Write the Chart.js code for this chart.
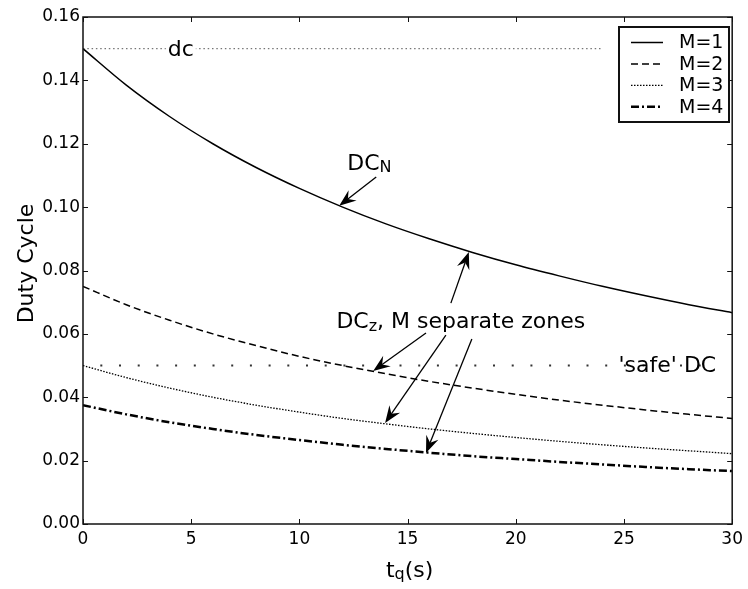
<!DOCTYPE html>
<html>
<head>
<meta charset="utf-8">
<script src="https://cdn.jsdelivr.net/npm/chart.js@4.4.1/dist/chart.umd.min.js"></script>
<style>
    html, body { margin: 0; padding: 0; background: #fff; }
</style>
</head>
<body>
<canvas id="graph" width="748" height="589"></canvas>
<script>
// tq(s) sample points and duty cycle
const tq = [0, 2, 4, 6, 8, 10, 12, 14, 16, 18, 20, 22, 24, 26, 28, 30];
const dutyM1 = [0.150, 0.1385, 0.1286, 0.120, 0.1125, 0.1059, 0.100, 0.0947, 0.090, 0.0857, 0.0818, 0.0783, 0.075, 0.072, 0.0692, 0.0667];
const dutyM2 = [0.075, 0.0692, 0.0643, 0.060, 0.0563, 0.0529, 0.050, 0.0474, 0.045, 0.0429, 0.0409, 0.0391, 0.0375, 0.036, 0.0346, 0.0333];
const dutyM3 = [0.050, 0.0462, 0.0429, 0.040, 0.0375, 0.0353, 0.0333, 0.0316, 0.030, 0.0286, 0.0273, 0.0261, 0.025, 0.024, 0.0231, 0.0222];
const dutyM4 = [0.0375, 0.0346, 0.0321, 0.030, 0.0281, 0.0265, 0.025, 0.0237, 0.0225, 0.0214, 0.0205, 0.0196, 0.0188, 0.018, 0.0173, 0.0167];
const seriesLabels = ['M=1', 'M=2', 'M=3', 'M=4'];

// reference levels
const dcX = [0, 24];
const dcY = [0.15, 0.15];
const safeX = [0.8, 29.2];
const safeY = [0.05, 0.05];

// axes
const xMin = 0, xMax = 30, xStep = 5;
const yMin = 0, yMax = 0.16, yStep = 0.02;

// arrows: [tailX, tailY, tipX, tipY]
const arrows = [
    [13.55, 0.1095, 11.84, 0.1004],
    [17.0, 0.0697, 17.83, 0.0858],
    [15.85, 0.0603, 13.41, 0.0483],
    [16.77, 0.0596, 13.96, 0.0319],
    [17.97, 0.0584, 15.85, 0.0224],
];

const FONT = "'DejaVu Sans', sans-serif";

function pts(xs, ys) {
    return xs.map((v, i) => ({x: v, y: ys[i]}));
}

const decor = {
    id: 'decor',
    afterDatasetsDraw(chart) {
        const {ctx, chartArea: a, scales} = chart;
        const sx = scales.x, sy = scales.y;
        ctx.save();

        // frame
        ctx.strokeStyle = '#111';
        ctx.lineWidth = 1.5;
        ctx.setLineDash([]);
        ctx.strokeRect(a.left, a.top, a.right - a.left, a.bottom - a.top);

        // inward ticks on all sides
        ctx.lineWidth = 1;
        ctx.beginPath();
        for (let v = xMin; v <= xMax; v += xStep) {
            const px = Math.round(sx.getPixelForValue(v)) + 0.5;
            ctx.moveTo(px, a.bottom); ctx.lineTo(px, a.bottom - 5);
            ctx.moveTo(px, a.top); ctx.lineTo(px, a.top + 5);
        }
        for (let i = 0; i <= Math.round((yMax - yMin) / yStep); i++) {
            const py = Math.round(sy.getPixelForValue(yMin + i * yStep)) + 0.5;
            ctx.moveTo(a.left, py); ctx.lineTo(a.left + 5, py);
            ctx.moveTo(a.right, py); ctx.lineTo(a.right - 5, py);
        }
        ctx.stroke();

        ctx.fillStyle = '#000';
        ctx.textBaseline = 'alphabetic';

        // dc label on the dotted line
        ctx.font = '22px ' + FONT;
        let w = ctx.measureText('dc').width;
        let cx = sx.getPixelForValue(4.52);
        let by = sy.getPixelForValue(0.1478);
        ctx.fillStyle = '#fff';
        ctx.fillRect(cx - w / 2 - 2, by - 17, w + 4, 20);
        ctx.fillStyle = '#000';
        ctx.textAlign = 'center';
        ctx.fillText('dc', cx, by);

        ctx.textAlign = 'left';
        // DC_N
        subText('DC', 'N', sx.getPixelForValue(12.21), sy.getPixelForValue(0.1117), 2, '');
        // DC_z, M separate zones
        subText('DC', 'z', sx.getPixelForValue(11.71), sy.getPixelForValue(0.0617), 3, ', M separate zones');
        // 'safe' DC
        ctx.font = '22px ' + FONT;
        ctx.fillText("'safe' DC", sx.getPixelForValue(24.75), sy.getPixelForValue(0.048));

        function subText(main, sub, x0, y0, drop, rest) {
            ctx.font = '22px ' + FONT;
            ctx.fillText(main, x0, y0);
            let x1 = x0 + ctx.measureText(main).width;
            ctx.font = '16px ' + FONT;
            ctx.fillText(sub, x1, y0 + drop);
            x1 += ctx.measureText(sub).width;
            ctx.font = '22px ' + FONT;
            if (rest) ctx.fillText(rest, x1, y0);
        }

        // arrows
        arrows.forEach(r => {
            const x0 = sx.getPixelForValue(r[0]), y0 = sy.getPixelForValue(r[1]);
            const x1 = sx.getPixelForValue(r[2]), y1 = sy.getPixelForValue(r[3]);
            const ang = Math.atan2(y1 - y0, x1 - x0);
            const len = 17, hw = 6.5, notch = 11;
            ctx.strokeStyle = '#000';
            ctx.lineWidth = 1.3;
            ctx.beginPath();
            ctx.moveTo(x0, y0);
            ctx.lineTo(x1 - Math.cos(ang) * notch, y1 - Math.sin(ang) * notch);
            ctx.stroke();
            const bx = x1 - Math.cos(ang) * len, by2 = y1 - Math.sin(ang) * len;
            const nx = -Math.sin(ang), ny = Math.cos(ang);
            ctx.beginPath();
            ctx.moveTo(x1, y1);
            ctx.lineTo(bx + nx * hw, by2 + ny * hw);
            ctx.lineTo(x1 - Math.cos(ang) * notch, y1 - Math.sin(ang) * notch);
            ctx.lineTo(bx - nx * hw, by2 - ny * hw);
            ctx.closePath();
            ctx.fill();
        });

        // legend box
        const lx = 619, ly = 27, lw = 110, lh = 95;
        ctx.fillStyle = '#fff';
        ctx.fillRect(lx, ly, lw, lh);
        ctx.strokeStyle = '#111';
        ctx.lineWidth = 2;
        ctx.setLineDash([]);
        ctx.strokeRect(lx, ly, lw, lh);
        ctx.font = '19px ' + FONT;
        ctx.textBaseline = 'middle';
        ctx.textAlign = 'left';
        chart.data.datasets.filter(d => seriesLabels.includes(d.label)).forEach((d, i) => {
            const yy = ly + 15.5 + i * 21.4;
            ctx.strokeStyle = d.borderColor;
            ctx.lineWidth = d.borderWidth;
            ctx.setLineDash(d.borderDash || []);
            ctx.beginPath();
            ctx.moveTo(lx + 12, yy);
            ctx.lineTo(lx + 44, yy);
            ctx.stroke();
            ctx.fillStyle = '#000';
            ctx.fillText(d.label, lx + 60, yy + 1);
        });
        ctx.setLineDash([]);

        // x title t_q(s)
        ctx.textBaseline = 'alphabetic';
        ctx.font = '22px ' + FONT;
        const wt = ctx.measureText('t').width, ws = ctx.measureText('(s)').width;
        ctx.font = '16px ' + FONT;
        const wq = ctx.measureText('q').width;
        let tx = (a.left + a.right) / 2 + 2 - (wt + wq + ws) / 2;
        const ty = 577;
        ctx.font = '22px ' + FONT;
        ctx.fillText('t', tx, ty);
        ctx.font = '16px ' + FONT;
        ctx.fillText('q', tx + wt, ty + 2);
        ctx.font = '22px ' + FONT;
        ctx.fillText('(s)', tx + wt + wq, ty);

        // y title
        ctx.translate(33, (a.top + a.bottom) / 2 - 7);
        ctx.rotate(-Math.PI / 2);
        ctx.textAlign = 'center';
        ctx.fillText('Duty Cycle', 0, 0);

        ctx.restore();
    }
};

const curve = (label, data, dash, width) => ({
    label: label,
    data: pts(tq, data),
    borderColor: '#000',
    borderWidth: width,
    borderDash: dash,
    pointRadius: 0,
    cubicInterpolationMode: 'monotone',
    fill: false
});

const graph = new Chart(document.getElementById('graph'), {
    type: 'line',
    data: {
        datasets: [
            {
                label: 'dc',
                data: pts(dcX, dcY),
                borderColor: '#555',
                borderWidth: 1,
                borderDash: [1.5, 2.8],
                pointRadius: 0
            },
            {
                label: 'safe',
                data: pts(safeX, safeY),
                borderColor: '#333',
                borderWidth: 2,
                borderDash: [2, 16.7],
                pointRadius: 0
            },
            curve(seriesLabels[0], dutyM1, [], 1.5),
            curve(seriesLabels[1], dutyM2, [7, 4], 1.5),
            curve(seriesLabels[2], dutyM3, [1.5, 1.5], 1.3),
            curve(seriesLabels[3], dutyM4, [8, 3, 2, 3], 2.5)
        ]
    },
    options: {
        responsive: false,
        animation: false,
        devicePixelRatio: 1,
        layout: {padding: {top: 17, right: 14, left: 0, bottom: 0}},
        plugins: {
            legend: {display: false},
            tooltip: {enabled: false}
        },
        scales: {
            x: {
                type: 'linear',
                min: xMin,
                max: xMax,
                grid: {display: false, drawTicks: false},
                border: {display: false},
                ticks: {
                    stepSize: xStep,
                    padding: 5,
                    color: '#000',
                    font: {family: FONT, size: 17}
                },
                afterFit: s => { s.height = 65; }
            },
            y: {
                min: yMin,
                max: yMax,
                grid: {display: false, drawTicks: false},
                border: {display: false},
                ticks: {
                    stepSize: yStep,
                    padding: 3,
                    color: '#000',
                    font: {family: FONT, size: 17},
                    callback: v => v.toFixed(2)
                },
                afterFit: s => { s.width = 83; }
            }
        }
    },
    plugins: [decor]
});
</script>
</body>
</html>
